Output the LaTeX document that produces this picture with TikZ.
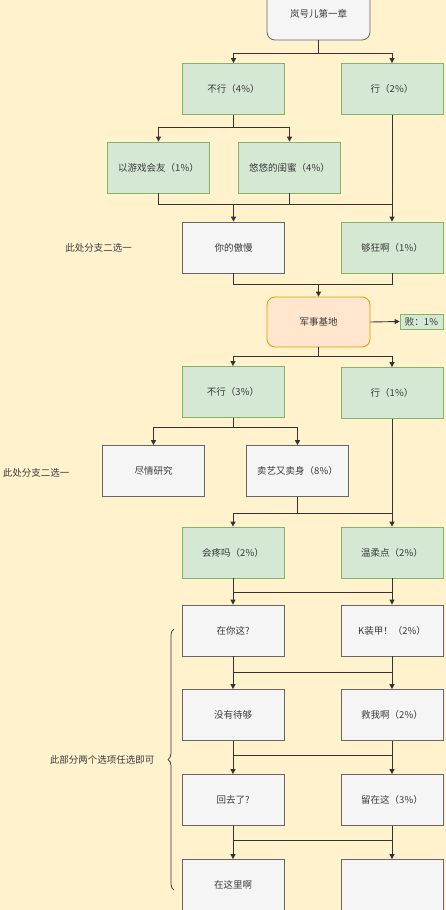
\documentclass[tikz,border=0pt]{standalone}
\usepackage{fontspec}
\setmainfont{Noto Sans CJK SC}
\usetikzlibrary{arrows.meta,decorations.pathreplacing}
\definecolor{bgyellow}{HTML}{FFF2CC}
\definecolor{grfill}{HTML}{D5E8D4}
\definecolor{grline}{HTML}{82B366}
\definecolor{gyfill}{HTML}{F5F5F5}
\definecolor{gyline}{HTML}{666666}
\definecolor{orfill}{HTML}{FFE6CC}
\definecolor{orline}{HTML}{D79B00}
\definecolor{linegray}{HTML}{333333}
\definecolor{textgray}{HTML}{3A3A3A}
\begin{document}
\begin{tikzpicture}[x=1pt,y=-1pt,
  box/.style={draw, line width=0.8pt, minimum width=102pt, minimum height=51pt, inner sep=2pt, font=\fontsize{9.5}{11}\selectfont, text=textgray},
  greenbox/.style={box, fill=grfill, draw=grline},
  graybox/.style={box, fill=gyfill, draw=gyline},
  note/.style={font=\fontsize{9.5}{11}\selectfont, text=textgray, inner sep=1pt},
  arr/.style={-{Triangle[length=5pt,width=5pt]}, line width=0.9pt, draw=linegray},
  link/.style={line width=0.9pt, draw=linegray}]
			%page and background
			\useasboundingbox (0,0) rectangle (446,910);
			\clip (0,0) rectangle (446,910);
			\fill[bgyellow] (0,0) rectangle (446,910);
			%first chapter
			\node[graybox, rounded corners=8pt, minimum width=103pt, minimum height=52pt] (start) at (318.5,14) {岚号儿第一章};
			\node[greenbox] (no1) at (233.5,89) {不行（4\%）};
			\node[greenbox] (yes1) at (392,89) {行（2\%）};
			\node[greenbox] (game) at (158.5,167.5) {以游戏会友（1\%）};
			\node[greenbox] (girl) at (289.5,167.5) {悠悠的闺蜜（4\%）};
			\node[graybox] (pride) at (233.5,247.5) {你的傲慢};
			\node[greenbox] (crazy) at (392,247.5) {够狂啊（1\%）};
			\node[note] (tip1) at (98.5,248) {此处分支二选一};
			%military base
			\node[box, fill=orfill, draw=orline, rounded corners=8pt, minimum width=103pt, minimum height=50pt] (base) at (318.5,322) {军事基地};
			\node[greenbox, minimum width=43pt, minimum height=15pt] (fail) at (421.5,321.5) {败：1\%};
			\node[greenbox] (no2) at (233,392) {不行（3\%）};
			\node[greenbox] (yes2) at (392,393) {行（1\%）};
			\node[graybox] (study) at (153.5,471) {尽情研究};
			\node[graybox] (sell) at (297.5,471) {卖艺又卖身（8\%）};
			\node[note] (tip2) at (36,473) {此处分支二选一};
			\node[greenbox] (hurt) at (233,552.5) {会疼吗（2\%）};
			\node[greenbox] (gentle) at (392,552.5) {温柔点（2\%）};
			%free choice part
			\node[graybox] (here) at (233,630.5) {在你这?};
			\node[graybox] (armor) at (392,630.5) {K装甲！（2\%）};
			\node[graybox] (notyet) at (233,715) {没有待够};
			\node[graybox] (save) at (392,715) {救我啊（2\%）};
			\node[graybox] (back) at (233,800) {回去了?};
			\node[graybox] (stay) at (392,800) {留在这（3\%）};
			\node[graybox] (last) at (233,885) {在这里啊};
			\node[graybox] (lastr) at (392,885) {};
			%connectors, top part
			\draw[arr] (start.south) -- ++(0,13) -| (no1.north);
			\draw[arr] (start.south) -- ++(0,13) -| (yes1.north);
			\draw[arr] (no1.south) -- ++(0,13) -| (game.north);
			\draw[arr] (no1.south) -- ++(0,13) -| (girl.north);
			\draw[link] (game.south) -- ++(0,11) -| (yes1.south);
			\draw[link] (girl.south) -- ++(0,11);
			\draw[arr] (pride.north) ++(0,-18) -- (pride.north);
			\draw[arr] (yes1.south) -- (crazy.north);
			\draw[link] (pride.south) -- ++(0,11) -| (crazy.south);
			\draw[arr] (base.north) ++(0,-13) -- (base.north);
			%connectors, base part
			\draw[arr] (base.east) -- (fail.west);
			\draw[arr] (base.south) -- ++(0,9) -| (no2.north);
			\draw[arr] (base.south) -- ++(0,9) -| (yes2.north);
			\draw[arr] (no2.south) -- ++(0,10) -| (study.north);
			\draw[arr] (no2.south) -- ++(0,10) -| (sell.north);
			\draw[link] (sell.south) -- ++(0,17);
			\draw[link] (hurt.north) ++(0,-13) -- ++(159,0);
			\draw[arr] (hurt.north) ++(0,-13) -- (hurt.north);
			\draw[arr] (yes2.south) -- (gentle.north);
			%connectors, pairs
			\draw[link] (hurt.south) -- ++(0,14) -| (gentle.south);
			\draw[arr] (hurt.south) -- (here.north);
			\draw[arr] (gentle.south) -- (armor.north);
			\draw[link] (here.south) -- ++(0,16) -| (armor.south);
			\draw[arr] (here.south) -- (notyet.north);
			\draw[arr] (armor.south) -- (save.north);
			\draw[link] (notyet.south) -- ++(0,15) -| (save.south);
			\draw[arr] (notyet.south) -- (back.north);
			\draw[arr] (save.south) -- (stay.north);
			\draw[link] (back.south) -- ++(0,15) -| (stay.south);
			\draw[arr] (back.south) -- (last.north);
			\draw[arr] (stay.south) -- (lastr.north);
			%brace
			\coordinate (bracetop) at (174,629);
			\coordinate (bracebot) at (174,890);
			\draw[link, line width=0.7pt, decorate, decoration={brace, amplitude=6pt}] (bracebot) -- (bracetop);
			\node[note] (tip3) at (102,760) {此部分两个选项任选即可};
		\end{tikzpicture}
\end{document}
